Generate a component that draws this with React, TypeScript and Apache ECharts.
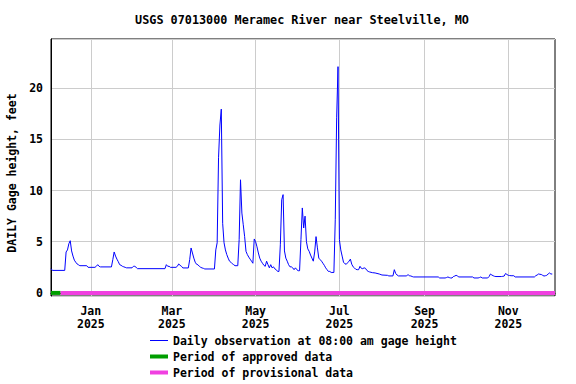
import React, { useEffect, useRef } from 'react';
import * as echarts from 'echarts';

const chartTitle = 'USGS 07013000 Meramec River near Steelville, MO';
const yAxisTitle = 'DAILY Gage height, feet';
const legendLabels = [
  'Daily observation at 08:00 am gage height',
  'Period of approved data',
  'Period of provisional data',
];
const monthNames = ['Jan', 'Feb', 'Mar', 'Apr', 'May', 'Jun', 'Jul', 'Aug', 'Sep', 'Oct', 'Nov', 'Dec'];
const monthTicks = ['2025-01-01', '2025-03-01', '2025-05-01', '2025-07-01', '2025-09-01', '2025-11-01'];
const yTicks = [0, 5, 10, 15, 20];
const xRange = ['2024-12-03', '2025-12-05'];
const yRange = [-0.3, 24.8];
const approvedPeriod = ['2024-12-03', '2024-12-10'];
const provisionalPeriod = ['2024-12-10', '2025-12-05'];

// Daily gage height (feet)
const winterObs: [string, number][] = [
  ['2024-12-03', 2.37], ['2024-12-04', 2.2], ['2024-12-13', 2.2], ['2024-12-14', 4.0],
  ['2024-12-15', 4.2], ['2024-12-16', 4.8], ['2024-12-17', 5.1], ['2024-12-18', 4.1],
  ['2024-12-19', 3.6], ['2024-12-20', 3.2], ['2024-12-21', 3.0], ['2024-12-22', 2.83],
  ['2024-12-23', 2.75], ['2024-12-24', 2.66], ['2024-12-29', 2.66], ['2024-12-30', 2.5],
  ['2025-01-04', 2.5], ['2025-01-05', 2.6], ['2025-01-06', 2.76], ['2025-01-07', 2.6],
  ['2025-01-08', 2.54], ['2025-01-16', 2.54], ['2025-01-17', 3.25], ['2025-01-18', 4.0],
  ['2025-01-19', 3.6], ['2025-01-20', 3.3], ['2025-01-21', 3.05], ['2025-01-22', 2.76],
  ['2025-01-23', 2.7], ['2025-01-24', 2.6], ['2025-01-25', 2.55], ['2025-01-26', 2.5],
  ['2025-01-27', 2.45], ['2025-01-31', 2.45], ['2025-02-01', 2.6], ['2025-02-02', 2.6],
  ['2025-02-03', 2.5], ['2025-02-04', 2.37], ['2025-02-24', 2.37], ['2025-02-25', 2.76],
  ['2025-02-26', 2.6], ['2025-02-27', 2.6], ['2025-02-28', 2.5],
];
const springObs: [string, number][] = [
  ['2025-03-04', 2.5], ['2025-03-05', 2.6], ['2025-03-06', 2.83], ['2025-03-07', 2.7],
  ['2025-03-08', 2.6], ['2025-03-09', 2.44], ['2025-03-13', 2.44], ['2025-03-14', 3.25],
  ['2025-03-15', 4.39], ['2025-03-16', 3.9], ['2025-03-17', 3.4], ['2025-03-18', 3.0],
  ['2025-03-19', 2.8], ['2025-03-20', 2.75], ['2025-03-21', 2.6], ['2025-03-22', 2.5],
  ['2025-03-23', 2.44], ['2025-03-24', 2.4], ['2025-03-25', 2.34], ['2025-04-01', 2.34],
  ['2025-04-02', 4.2], ['2025-04-03', 4.9], ['2025-04-04', 13.2], ['2025-04-05', 16.4],
  ['2025-04-06', 17.95], ['2025-04-07', 6.8], ['2025-04-08', 4.9], ['2025-04-09', 4.2],
  ['2025-04-10', 3.74], ['2025-04-11', 3.4], ['2025-04-12', 3.1], ['2025-04-13', 3.0],
  ['2025-04-14', 2.85], ['2025-04-15', 2.76], ['2025-04-16', 2.66], ['2025-04-18', 2.66],
  ['2025-04-19', 5.2], ['2025-04-20', 11.05], ['2025-04-21', 7.8], ['2025-04-22', 6.66],
  ['2025-04-23', 5.5], ['2025-04-24', 4.06], ['2025-04-25', 3.74], ['2025-04-26', 3.5],
  ['2025-04-27', 3.3], ['2025-04-28', 3.1], ['2025-04-29', 2.9], ['2025-04-30', 5.27],
  ['2025-05-01', 5.0], ['2025-05-02', 4.5], ['2025-05-03', 3.9], ['2025-05-04', 3.4],
  ['2025-05-05', 3.1], ['2025-05-06', 2.9], ['2025-05-07', 2.7], ['2025-05-08', 2.6],
  ['2025-05-09', 3.1], ['2025-05-10', 2.76], ['2025-05-11', 2.45], ['2025-05-12', 2.76],
  ['2025-05-13', 2.45], ['2025-05-14', 2.55], ['2025-05-15', 2.35], ['2025-05-16', 2.27],
  ['2025-05-17', 2.1], ['2025-05-18', 2.1], ['2025-05-19', 4.7], ['2025-05-20', 9.1],
  ['2025-05-21', 9.6], ['2025-05-22', 4.1], ['2025-05-23', 3.4], ['2025-05-24', 3.1],
  ['2025-05-25', 2.76], ['2025-05-26', 2.55], ['2025-05-27', 2.55], ['2025-05-28', 2.45],
  ['2025-05-29', 2.27], ['2025-05-30', 2.45], ['2025-05-31', 2.27],
];
const summerObs: [string, number][] = [
  ['2025-06-01', 2.17], ['2025-06-02', 2.17], ['2025-06-03', 5.2], ['2025-06-04', 8.3],
  ['2025-06-05', 6.34], ['2025-06-06', 7.5], ['2025-06-07', 5.0], ['2025-06-08', 4.3],
  ['2025-06-09', 4.06], ['2025-06-10', 3.7], ['2025-06-11', 3.4], ['2025-06-12', 3.1],
  ['2025-06-13', 4.0], ['2025-06-14', 5.5], ['2025-06-15', 4.4], ['2025-06-16', 3.4],
  ['2025-06-17', 3.25], ['2025-06-18', 3.1], ['2025-06-19', 2.9], ['2025-06-20', 2.7],
  ['2025-06-21', 2.45], ['2025-06-22', 2.27], ['2025-06-23', 2.1], ['2025-06-24', 2.1],
  ['2025-06-25', 2.0], ['2025-06-27', 2.0], ['2025-06-28', 7.2], ['2025-06-29', 17.1],
  ['2025-06-30', 22.1], ['2025-07-01', 5.2], ['2025-07-02', 4.2], ['2025-07-03', 3.6],
  ['2025-07-04', 3.0], ['2025-07-05', 2.85], ['2025-07-06', 2.8], ['2025-07-07', 2.95],
  ['2025-07-08', 3.1], ['2025-07-09', 3.3], ['2025-07-10', 2.8], ['2025-07-11', 2.55],
  ['2025-07-12', 2.44], ['2025-07-13', 2.3], ['2025-07-14', 2.27], ['2025-07-15', 2.27],
  ['2025-07-16', 2.6], ['2025-07-17', 2.4], ['2025-07-18', 2.37], ['2025-07-19', 2.45],
  ['2025-07-20', 2.4], ['2025-07-21', 2.2], ['2025-07-22', 2.1], ['2025-07-23', 2.05],
  ['2025-07-25', 1.98], ['2025-07-27', 1.95], ['2025-07-30', 1.85], ['2025-08-01', 1.75],
  ['2025-08-05', 1.72], ['2025-08-06', 1.66], ['2025-08-09', 1.66], ['2025-08-10', 2.27],
  ['2025-08-11', 1.9], ['2025-08-12', 1.75], ['2025-08-13', 1.66], ['2025-08-19', 1.66],
  ['2025-08-20', 1.8], ['2025-08-21', 1.66], ['2025-08-22', 1.66], ['2025-08-23', 1.6],
  ['2025-08-24', 1.56],
];
const fallObs: [string, number][] = [
  ['2025-09-11', 1.56], ['2025-09-12', 1.46], ['2025-09-16', 1.46], ['2025-09-17', 1.5],
  ['2025-09-18', 1.56], ['2025-09-19', 1.5], ['2025-09-20', 1.46], ['2025-09-21', 1.46],
  ['2025-09-22', 1.6], ['2025-09-23', 1.65], ['2025-09-24', 1.72], ['2025-09-25', 1.65],
  ['2025-09-26', 1.56], ['2025-10-06', 1.56], ['2025-10-07', 1.46], ['2025-10-10', 1.46],
  ['2025-10-11', 1.5], ['2025-10-12', 1.56], ['2025-10-13', 1.46], ['2025-10-17', 1.46],
  ['2025-10-18', 1.6], ['2025-10-19', 1.85], ['2025-10-20', 1.75], ['2025-10-21', 1.68],
  ['2025-10-22', 1.62], ['2025-10-23', 1.6], ['2025-10-27', 1.6], ['2025-10-28', 1.62],
  ['2025-10-29', 1.65], ['2025-10-30', 1.9], ['2025-10-31', 1.8], ['2025-11-01', 1.72],
  ['2025-11-02', 1.7], ['2025-11-03', 1.68], ['2025-11-05', 1.68], ['2025-11-06', 1.56],
  ['2025-11-20', 1.56], ['2025-11-21', 1.68], ['2025-11-22', 1.75], ['2025-11-23', 1.85],
  ['2025-11-24', 1.82], ['2025-11-25', 1.8], ['2025-11-26', 1.72], ['2025-11-27', 1.65],
  ['2025-11-28', 1.68], ['2025-11-29', 1.72], ['2025-11-30', 1.85], ['2025-12-01', 1.95],
  ['2025-12-02', 1.85], ['2025-12-03', 1.85],
];

const toTime = (s: string) => {
  const [y, m, d] = s.split('-').map(Number);
  return new Date(y, m - 1, d).getTime();
};

const FONT = '"DejaVu Sans Mono", "Liberation Mono", monospace';

export default function App() {
  const ref = useRef<HTMLDivElement>(null);

  useEffect(() => {
    document.body.style.margin = '0';
    if (!ref.current) return;
    const chart = echarts.init(ref.current, undefined, { renderer: 'svg' });
    const observations = [...winterObs, ...springObs, ...summerObs, ...fallObs].map(
      ([d, v]) => [toTime(d), v]
    );
    const tickTimes = monthTicks.map(toTime);
    const labelStyle = { fontFamily: FONT, fontWeight: 'bold' as const, fontSize: 11.5, color: '#000' };

    chart.setOption({
      animation: false,
      backgroundColor: '#fff',
      grid: {
        left: 51,
        right: 21,
        top: 39,
        bottom: 88,
        show: true,
        borderColor: '#000',
        borderWidth: 1,
        backgroundColor: 'transparent',
      },
      xAxis: {
        type: 'value',
        min: toTime(xRange[0]),
        max: toTime(xRange[1]),
        axisLine: { show: true, lineStyle: { color: '#000', width: 1 } },
        axisTick: { show: false, customValues: tickTimes },
        axisLabel: {
          ...labelStyle,
          customValues: tickTimes,
          margin: 8,
          lineHeight: 13,
          hideOverlap: false,
          formatter: (v: number) => {
            const d = new Date(v);
            return monthNames[d.getMonth()] + '\n' + d.getFullYear();
          },
        },
        splitLine: { show: true, lineStyle: { color: '#cccccc', width: 1 } },
      },
      yAxis: {
        type: 'value',
        min: yRange[0],
        max: yRange[1],
        splitNumber: 5,
        axisLine: { show: true, lineStyle: { color: '#000', width: 1 } },
        axisTick: { show: false },
        axisLabel: {
          ...labelStyle,
          margin: 8,
          showMinLabel: false,
          showMaxLabel: false,
          formatter: (v: number) => (yTicks.includes(v) ? String(v) : ''),
        },
        splitLine: { show: true, lineStyle: { color: '#cccccc', width: 1 } },
      },
      series: [
        {
          type: 'line',
          name: legendLabels[0],
          data: observations,
          showSymbol: false,
          symbol: 'none',
          lineStyle: { color: '#0000ff', width: 1 },
          z: 3,
        },
        {
          type: 'line',
          name: legendLabels[1],
          data: approvedPeriod.map((d) => [toTime(d), 0]),
          showSymbol: false,
          symbol: 'none',
          clip: false,
          lineStyle: { color: '#009e00', width: 4, cap: 'butt' },
          z: 4,
        },
        {
          type: 'line',
          name: legendLabels[2],
          data: provisionalPeriod.map((d) => [toTime(d), 0]),
          showSymbol: false,
          symbol: 'none',
          clip: false,
          lineStyle: { color: '#f040e0', width: 4, cap: 'butt' },
          z: 4,
        },
      ],
      graphic: [
        {
          type: 'text',
          x: 302,
          y: 20,
          style: {
            text: chartTitle,
            font: `bold 11.8px ${FONT}`,
            fill: '#000',
            align: 'center',
            verticalAlign: 'middle',
          },
        },
        {
          type: 'text',
          x: 12,
          y: 173,
          rotation: Math.PI / 2,
          style: {
            text: yAxisTitle,
            font: `bold 11.5px ${FONT}`,
            fill: '#000',
            align: 'center',
            verticalAlign: 'middle',
          },
        },
        {
          type: 'line',
          shape: { x1: 150, y1: 340.5, x2: 168, y2: 340.5 },
          style: { stroke: '#0000ff', lineWidth: 1 },
        },
        {
          type: 'line',
          shape: { x1: 150, y1: 356.5, x2: 168, y2: 356.5 },
          style: { stroke: '#009e00', lineWidth: 4 },
        },
        {
          type: 'line',
          shape: { x1: 150, y1: 372.5, x2: 168, y2: 372.5 },
          style: { stroke: '#f040e0', lineWidth: 4 },
        },
        ...legendLabels.map((t, i) => ({
          type: 'text',
          x: 173,
          y: 341 + i * 16,
          style: {
            text: t,
            font: `bold 11.5px ${FONT}`,
            fill: '#000',
            align: 'left',
            verticalAlign: 'middle',
          },
        })),
      ],
    });

    return () => chart.dispose();
  }, []);

  return <div ref={ref} style={{ width: 576, height: 384 }} />;
}
